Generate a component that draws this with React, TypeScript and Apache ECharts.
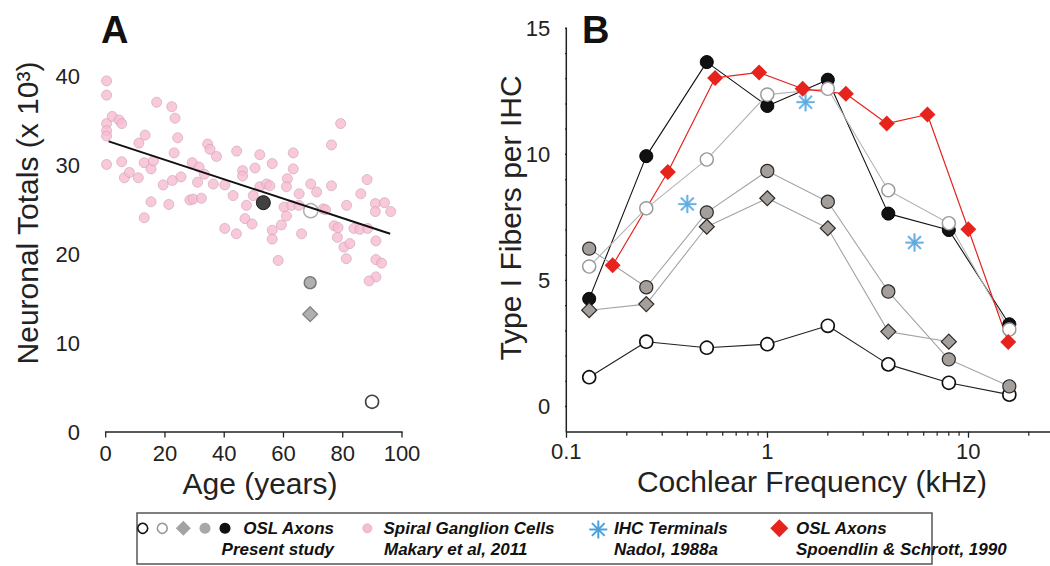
import { useEffect, useRef } from "react";
import * as echarts from "echarts";

const FONT = '"Liberation Sans", Arial, Helvetica, sans-serif';

// ---------- Panel A: Spiral ganglion cells (Makary et al, 2011) [age, total x10^3]
const sgcPoints: [number, number][] = [
  [0.3, 39.5], [0.3, 37.9], [0.3, 34.7], [0.3, 33.9], [0.3, 33.3], [0.3, 30.1],
  [2.2, 35.5], [4.5, 35.1], [5.4, 34.7], [5.4, 30.4], [6.3, 28.6], [8.0, 29.2],
  [11.0, 28.6], [11.2, 32.5], [13.3, 33.4], [13.0, 30.3], [15.3, 29.6], [16.1, 30.5],
  [13.0, 24.1], [15.3, 25.9], [17.2, 37.1], [19.4, 27.8], [21.3, 25.6], [22.5, 28.3],
  [23.1, 31.4], [22.3, 36.6], [23.4, 35.3], [24.3, 33.1], [25.4, 28.7], [28.4, 26.1],
  [29.2, 30.3], [29.5, 26.2], [31.0, 28.1], [31.5, 29.8], [32.3, 26.3], [33.3, 29.0],
  [34.4, 32.4], [35.2, 31.8], [37.4, 31.0], [36.3, 27.9], [40.2, 27.8], [43.0, 26.6],
  [44.2, 31.6], [46.2, 29.4], [46.2, 28.8], [47.5, 25.5], [50.4, 29.7], [52.0, 31.2],
  [52.0, 27.6], [54.3, 27.9], [55.4, 27.7], [56.2, 30.2], [49.8, 26.6], [47.0, 24.0],
  [49.4, 23.4], [40.2, 22.9], [44.1, 22.3], [56.2, 22.7], [56.2, 21.7], [59.3, 23.3],
  [60.2, 25.3], [61.0, 24.3], [61.3, 28.5], [61.0, 27.6], [63.3, 31.4], [63.3, 29.6],
  [62.7, 25.5], [65.3, 26.8], [65.2, 25.5], [66.1, 22.3], [69.2, 27.9], [71.2, 27.0],
  [73.4, 25.1], [74.2, 25.0], [76.2, 32.3], [76.2, 27.7], [79.3, 34.7], [77.1, 23.2],
  [78.4, 23.0], [78.2, 21.9], [81.3, 25.5], [80.4, 20.8], [82.4, 21.2], [81.2, 19.5],
  [83.8, 22.9], [85.8, 22.8], [88.4, 22.9], [86.1, 26.8], [88.2, 28.4], [91.0, 25.7],
  [91.0, 24.8], [94.1, 25.8], [96.2, 24.8], [91.2, 21.5], [58.2, 19.3], [91.2, 19.4],
  [93.1, 19.0], [91.2, 17.45], [88.9, 17.0],
];

// regression line end points
const fitAge = [1, 96];
const fitTotals = [32.7, 22.3];

// OSL axons, present study (panel A)
const oslCases = ["filledBlack", "openGray", "grayCircle", "grayDiamond", "openBlack"];
const oslAge = [53.2, 69.2, 69.0, 69.0, 89.9];
const oslTotals = [25.8, 24.9, 16.8, 13.25, 3.4];

// ---------- Panel B
const freqKHz = [0.13, 0.25, 0.5, 1, 2, 4, 8, 16];
const fibersFilledBlack = [4.27, 9.93, 13.66, 11.92, 12.96, 7.65, 7.0, 3.26];
const fibersOpenGray = [5.55, 7.86, 9.8, 12.37, 12.6, 8.58, 7.27, 3.05];
const fibersGrayCircle = [6.26, 4.73, 7.7, 9.34, 8.12, 4.56, 1.87, 0.8];
const fibersGrayDiamond = [3.82, 4.06, 7.13, 8.26, 7.07, 2.97, 2.57, null];
const fibersOpenBlack = [1.16, 2.57, 2.33, 2.47, 3.2, 1.67, 0.94, 0.47];

const spoendlinFreq = [0.17, 0.32, 0.55, 0.91, 1.5, 2.46, 3.93, 6.26, 10, 15.8];
const spoendlinFibers = [5.6, 9.3, 13.03, 13.25, 12.6, 12.4, 11.22, 11.58, 7.03, 2.56];

const nadolFreq = [0.4, 1.55, 5.4];
const nadolFibers = [8.03, 12.07, 6.5];

// ---------- axis ranges and ticks
const ageMin = 0;
const ageMax = 100;
const ageStep = 20;
const ageTicks = [0, 20, 40, 60, 80, 100];
const totalsMin = 0;
const totalsMax = 45;
const totalsStep = 5;
const totalsLabelStep = 10;
const aMajorTicks = [0, 10, 20, 30, 40, 45];
const aMinorTicks = [5, 15, 25, 35];

const freqMin = 0.1;
const freqMax = 100;
const minorFreqTicks = [0.2, 0.3, 0.4, 0.5, 0.6, 0.7, 0.8, 0.9, 2, 3, 4, 5, 6, 7, 8, 9, 20, 30, 40];
const fibersMin = -1;
const fibersMax = 15;
const fibersStep = 1;
const fibersLabelStep = 5;
const bMajorTicks = [0, 5, 10, 15];
const bMinorTicks = [1, 2, 3, 4, 6, 7, 8, 9, 11, 12, 13, 14];

const legendLabels = [
  ["OSL Axons", "Present study"],
  ["Spiral Ganglion Cells", "Makary et al, 2011"],
  ["IHC Terminals", "Nadol, 1988a"],
  ["OSL Axons", "Spoendlin & Schrott, 1990"],
];

// ---------- layout
const GRID_A = { left: 105.7, top: 32, width: 296.3, height: 400 };
const GRID_B = { left: 566.3, top: 28.3, width: 603, height: 403.4 };
const A_Y_OFFSET = 15.7; // panel A's y axis stands detached, left of age 0

// ---------- styles
const PINK = "#f8bcd2";
const PINK_BORDER = "#c9a2b2";
const RED = "#e6241d";
const BLUE = "#4aa0dc";
const WARM_GRAY = "#a59f9b";
const AXIS_COLOR = "#222222";

const STYLES: Record<string, any> = {
  openBlack: { symbol: "circle", size: 13, fill: "#ffffff", border: "#111111", bw: 1.6, line: "#222222" },
  openGray: { symbol: "circle", size: 13, fill: "#ffffff", border: "#9a9a9a", bw: 1.4, line: "#b4b4b4" },
  grayDiamond: { symbol: "diamond", size: 15, fill: WARM_GRAY, border: "#2a2a2a", bw: 1.2, line: "#a4a4a4" },
  grayCircle: { symbol: "circle", size: 13, fill: WARM_GRAY, border: "#2a2a2a", bw: 1.2, line: "#a4a4a4" },
  filledBlack: { symbol: "circle", size: 13, fill: "#111111", border: "#000000", bw: 1, line: "#111111" },
};

const A_STYLES: Record<string, any> = {
  filledBlack: { symbol: "circle", size: 14, fill: "#111111", border: "#000000", bw: 1 },
  openGray: { symbol: "circle", size: 14, fill: "#ffffff", border: "#9a9a9a", bw: 1.5 },
  grayCircle: { symbol: "circle", size: 12, fill: "#9c9c9c", border: "#5a5a5a", bw: 1.2 },
  grayDiamond: { symbol: "diamond", size: 15, fill: "#9c9c9c", border: "#6e6e6e", bw: 1.2 },
  openBlack: { symbol: "circle", size: 13, fill: "#ffffff", border: "#111111", bw: 1.6 },
};

const ASTERISK =
  "path://M-1,-10 L1,-10 L1,10 L-1,10 Z M-10,-1 L10,-1 L10,1 L-10,1 Z " +
  "M-6.36,-7.78 L7.78,6.36 L6.36,7.78 L-7.78,-6.36 Z " +
  "M-7.78,6.36 L6.36,-7.78 L7.78,-6.36 L-6.36,7.78 Z";

// axis line / tick segment drawn as a line series through the axes' scales
const seg = (xi: number, yi: number, pts: number[][], width: number) => ({
  type: "line",
  xAxisIndex: xi,
  yAxisIndex: yi,
  data: pts,
  symbol: "none",
  clip: false,
  silent: true,
  lineStyle: { color: AXIS_COLOR, width, cap: "butt" },
});

function buildAxisSeries() {
  const out: any[] = [];
  // panel A: pixel lengths expressed in data units of its linear axes
  const pxPerAge = GRID_A.width / (ageMax - ageMin);
  const pxPerTotal = GRID_A.height / (totalsMax - totalsMin);
  const yAxisAge = ageMin - A_Y_OFFSET / pxPerAge;
  out.push(seg(0, 0, [[yAxisAge, totalsMin - 0.75 / pxPerTotal], [yAxisAge, totalsMax + 0.75 / pxPerTotal]], 1.5));
  out.push(seg(0, 0, [[ageMin - 0.75 / pxPerAge, totalsMin], [ageMax + 0.75 / pxPerAge, totalsMin]], 1.5));
  aMajorTicks.forEach((v) => out.push(seg(0, 0, [[yAxisAge, v], [yAxisAge - 7 / pxPerAge, v]], 1.3)));
  aMinorTicks.forEach((v) => out.push(seg(0, 0, [[yAxisAge, v], [yAxisAge - 4 / pxPerAge, v]], 1.2)));
  ageTicks.forEach((v) => out.push(seg(0, 0, [[v, totalsMin], [v, totalsMin - 5.5 / pxPerTotal]], 1.3)));
  // panel B: y axis of the log-x grid
  const pxPerDecade = GRID_B.width / Math.log10(freqMax / freqMin);
  const pxPerFiber = GRID_B.height / (fibersMax - fibersMin);
  const leftOf = (px: number) => freqMin * Math.pow(10, -px / pxPerDecade);
  out.push(seg(1, 1, [[freqMin, fibersMin], [freqMin, fibersMax + 0.75 / pxPerFiber]], 1.5));
  bMajorTicks.forEach((v) => out.push(seg(1, 1, [[freqMin, v], [leftOf(6), v]], 1.3)));
  bMinorTicks.forEach((v) => out.push(seg(1, 1, [[freqMin, v], [leftOf(3.5), v]], 1.1)));
  minorFreqTicks.forEach((f) => out.push(seg(1, 1, [[f, fibersMin], [f, fibersMin - 4 / pxPerFiber]], 1.2)));
  return out;
}

function buildOption() {
  const panelBOrder = ["openBlack", "filledBlack", "openGray", "grayDiamond", "grayCircle"];
  const panelBValues: Record<string, (number | null)[]> = {
    openBlack: fibersOpenBlack,
    filledBlack: fibersFilledBlack,
    openGray: fibersOpenGray,
    grayDiamond: fibersGrayDiamond,
    grayCircle: fibersGrayCircle,
  };

  const series: any[] = [
    ...buildAxisSeries(),
    {
      type: "scatter",
      xAxisIndex: 0,
      yAxisIndex: 0,
      data: sgcPoints,
      symbol: "circle",
      symbolSize: 10,
      itemStyle: { color: PINK, borderColor: PINK_BORDER, borderWidth: 0.8 },
    },
    {
      type: "line",
      xAxisIndex: 0,
      yAxisIndex: 0,
      data: fitAge.map((a, i) => [a, fitTotals[i]]),
      symbol: "none",
      lineStyle: { color: "#111111", width: 2 },
    },
    ...oslCases.map((k, i) => ({
      type: "scatter",
      xAxisIndex: 0,
      yAxisIndex: 0,
      data: [[oslAge[i], oslTotals[i]]],
      symbol: A_STYLES[k].symbol,
      symbolSize: A_STYLES[k].size,
      itemStyle: { color: A_STYLES[k].fill, borderColor: A_STYLES[k].border, borderWidth: A_STYLES[k].bw },
    })),
    ...panelBOrder.map((k) => {
      const vals = panelBValues[k];
      const data = freqKHz
        .map((f, i) => (vals[i] == null ? null : [f, vals[i]]))
        .filter((d) => d !== null);
      const s = STYLES[k];
      return {
        type: "line",
        xAxisIndex: 1,
        yAxisIndex: 1,
        data,
        symbol: s.symbol,
        symbolSize: s.size,
        showSymbol: true,
        itemStyle: { color: s.fill, borderColor: s.border, borderWidth: s.bw },
        lineStyle: { color: s.line, width: 1.1 },
      };
    }),
    {
      type: "line",
      xAxisIndex: 1,
      yAxisIndex: 1,
      data: spoendlinFreq.map((f, i) => [f, spoendlinFibers[i]]),
      symbol: "diamond",
      symbolSize: 16,
      showSymbol: true,
      itemStyle: { color: RED, borderWidth: 0 },
      lineStyle: { color: RED, width: 1.2 },
    },
    {
      type: "scatter",
      xAxisIndex: 1,
      yAxisIndex: 1,
      data: nadolFreq.map((f, i) => [f, nadolFibers[i]]),
      symbol: ASTERISK,
      symbolSize: 18,
      itemStyle: { color: BLUE, borderColor: BLUE, borderWidth: 0.3 },
    },
  ];

  const titleText = (text: string, x: number, y: number, rot = 0, size = 30) => ({
    type: "text",
    x,
    y,
    rotation: rot,
    style: {
      text,
      fill: AXIS_COLOR,
      fontSize: size,
      fontFamily: FONT,
      textAlign: "center",
      align: "center",
      textVerticalAlign: "middle",
      verticalAlign: "middle",
    },
  });

  const legendText = (text: string, x: number, y: number, align: string) => ({
    type: "text",
    x,
    y,
    style: {
      text,
      fill: "#111111",
      fontSize: 17,
      fontWeight: "bold",
      fontStyle: "italic",
      fontFamily: FONT,
      textAlign: align,
      align,
      textVerticalAlign: "middle",
      verticalAlign: "middle",
    },
  });

  const diamond = (cx: number, cy: number, h: number, fill: string) => ({
    type: "polygon",
    shape: { points: [[cx, cy - h], [cx + h, cy], [cx, cy + h], [cx - h, cy]] },
    style: { fill },
  });

  const ly1 = 528.3;
  const ly2 = 549.5;
  const ast = { cx: 598.3, cy: 529.5, r: 9 };
  const astLines = [0, 45, 90, 135].map((deg) => {
    const a = (deg * Math.PI) / 180;
    return {
      type: "line",
      shape: {
        x1: ast.cx - ast.r * Math.cos(a),
        y1: ast.cy - ast.r * Math.sin(a),
        x2: ast.cx + ast.r * Math.cos(a),
        y2: ast.cy + ast.r * Math.sin(a),
      },
      style: { stroke: BLUE, lineWidth: 2 },
    };
  });

  const graphic: any[] = [
    {
      type: "text",
      x: 101,
      y: 30,
      style: { text: "A", fill: "#111", fontSize: 38, fontWeight: "bold", fontFamily: FONT, textVerticalAlign: "middle", verticalAlign: "middle" },
    },
    {
      type: "text",
      x: 582,
      y: 30,
      style: { text: "B", fill: "#111", fontSize: 38, fontWeight: "bold", fontFamily: FONT, textVerticalAlign: "middle", verticalAlign: "middle" },
    },
    titleText("Neuronal Totals (x 10³)", 27, 213, Math.PI / 2),
    titleText("Age (years)", 260, 483),
    titleText("Type I Fibers per IHC", 510, 218, Math.PI / 2),
    titleText("Cochlear Frequency (kHz)", 812, 481),
    {
      type: "rect",
      shape: { x: 137, y: 513, width: 795, height: 51 },
      style: { fill: "#ffffff", stroke: "#555555", lineWidth: 1.5 },
    },
    { type: "circle", shape: { cx: 142.7, cy: ly1, r: 5 }, style: { fill: "#fff", stroke: "#111", lineWidth: 1.6 } },
    { type: "circle", shape: { cx: 162.3, cy: ly1, r: 5 }, style: { fill: "#fff", stroke: "#999", lineWidth: 1.6 } },
    diamond(183.3, ly1, 7.5, "#a3a3a3"),
    { type: "circle", shape: { cx: 205, cy: ly1, r: 5.5 }, style: { fill: "#a8a8a8" } },
    { type: "circle", shape: { cx: 225, cy: ly1, r: 5.5 }, style: { fill: "#111" } },
    legendText(legendLabels[0][0], 334, ly1, "right"),
    legendText(legendLabels[0][1], 334, ly2, "right"),
    { type: "circle", shape: { cx: 367.3, cy: ly1, r: 4.5 }, style: { fill: PINK, stroke: PINK_BORDER, lineWidth: 0.6 } },
    legendText(legendLabels[1][0], 383.5, ly1, "left"),
    legendText(legendLabels[1][1], 384, ly2, "left"),
    ...astLines,
    legendText(legendLabels[2][0], 614, ly1, "left"),
    legendText(legendLabels[2][1], 614, ly2, "left"),
    diamond(779.3, ly1, 9, RED),
    legendText(legendLabels[3][0], 796, ly1, "left"),
    legendText(legendLabels[3][1], 796, ly2, "left"),
  ];

  const label = (margin: number, extra: any = {}) => ({
    show: true,
    color: AXIS_COLOR,
    fontSize: 22,
    fontFamily: FONT,
    margin,
    ...extra,
  });
  const hidden = { show: false, onZero: false };

  return {
    animation: false,
    grid: [
      { ...GRID_A, outerBoundsMode: "none" },
      { ...GRID_B, outerBoundsMode: "none" },
    ],
    xAxis: [
      {
        gridIndex: 0,
        type: "value",
        min: ageMin,
        max: ageMax,
        interval: ageStep,
        axisLine: hidden,
        axisTick: { show: false },
        axisLabel: label(10),
        splitLine: { show: false },
      },
      {
        gridIndex: 1,
        type: "log",
        logBase: 10,
        min: freqMin,
        max: freqMax,
        axisLine: { show: true, onZero: false, lineStyle: { color: AXIS_COLOR, width: 1.5 } },
        axisTick: { show: true, length: 6, lineStyle: { color: AXIS_COLOR, width: 1.3 } },
        axisLabel: label(9, {
          showMaxLabel: false,
          formatter: (v: number) => (v >= 100 ? "" : v < 1 ? v.toFixed(1) : String(Math.round(v))),
        }),
        minorTick: { show: false },
        splitLine: { show: false },
      },
    ],
    yAxis: [
      {
        gridIndex: 0,
        type: "value",
        min: totalsMin,
        max: totalsMax,
        interval: totalsStep,
        axisLine: hidden,
        axisTick: { show: false },
        axisLabel: label(A_Y_OFFSET + 10, {
          formatter: (v: number) => (v % totalsLabelStep === 0 && v < totalsMax ? String(v) : ""),
        }),
        splitLine: { show: false },
      },
      {
        gridIndex: 1,
        type: "value",
        min: fibersMin,
        max: fibersMax,
        interval: fibersStep,
        axisLine: hidden,
        axisTick: { show: false },
        axisLabel: label(16, {
          formatter: (v: number) => (v >= 0 && v % fibersLabelStep === 0 ? String(v) : ""),
        }),
        splitLine: { show: false },
      },
    ],
    series,
    graphic,
  };
}

export default function App() {
  const ref = useRef<HTMLDivElement>(null);
  useEffect(() => {
    if (!ref.current) return;
    const chart = echarts.init(ref.current, null, { renderer: "svg", width: 1050, height: 566 });
    chart.setOption(buildOption() as any);
    return () => chart.dispose();
  }, []);
  return (
    <div
      ref={ref}
      style={{ position: "fixed", left: 0, top: 0, width: 1050, height: 566, background: "#fff" }}
    />
  );
}
